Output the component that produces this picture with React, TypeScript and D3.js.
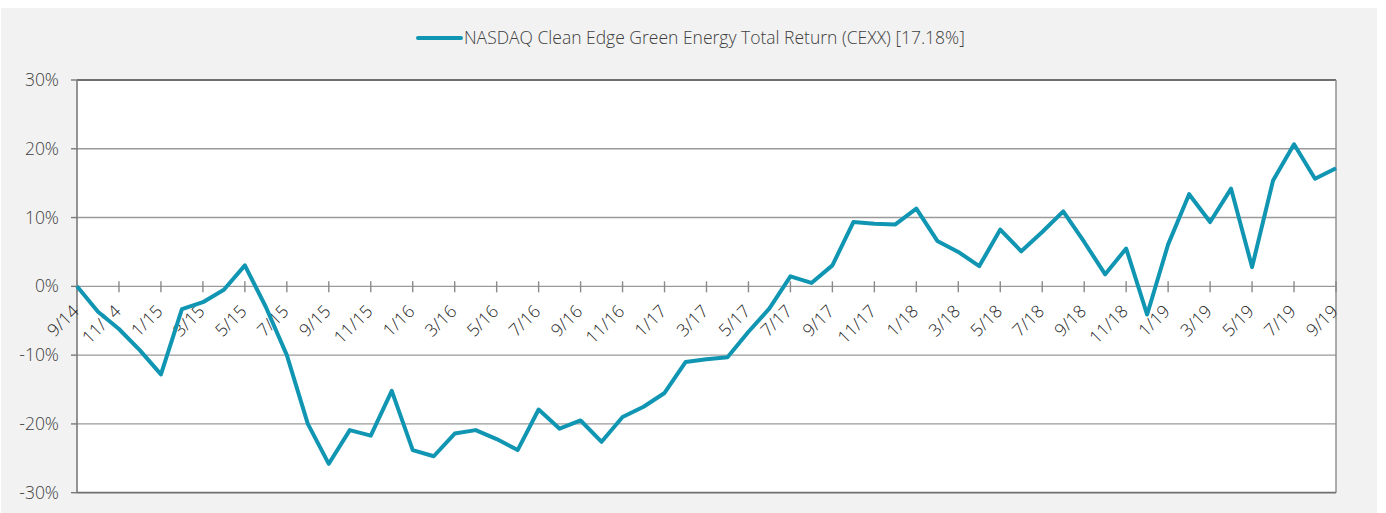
import React from "react";
import * as d3 from "d3";

const seriesName = "NASDAQ Clean Edge Green Energy Total Return (CEXX) [17.18%]";

// Monthly cumulative total return (%), 9/14 .. 9/19
const returns: number[] = [
  0, -3.7, -6.2, -9.3, -12.8, -3.3, -2.3, -0.5, 3.05, -3.0,
  -10.0, -20.0, -25.8, -20.9, -21.7, -15.2, -23.8, -24.7, -21.4, -20.9,
  -22.2, -23.8, -17.9, -20.7, -19.5, -22.6, -19.0, -17.5, -15.5, -11.0,
  -10.6, -10.3, -6.6, -3.2, 1.45, 0.5, 3.05, 9.35, 9.1, 9.0,
  11.3, 6.6, 5.0, 2.95, 8.25, 5.1, 7.9, 10.9, 6.45, 1.75,
  5.5, -4.1, 6.1, 13.4, 9.35, 14.2, 2.8, 15.4, 20.65, 15.65,
  17.18,
];

const xTickLabels: string[] = [
  "9/14", "11/14", "1/15", "3/15", "5/15", "7/15", "9/15", "11/15",
  "1/16", "3/16", "5/16", "7/16", "9/16", "11/16", "1/17", "3/17",
  "5/17", "7/17", "9/17", "11/17", "1/18", "3/18", "5/18", "7/18",
  "9/18", "11/18", "1/19", "3/19", "5/19", "7/19", "9/19",
];

const yTicks: number[] = [-30, -20, -10, 0, 10, 20, 30];

const W = 1386;
const H = 513;
const left = 77;
const right = 1336;
const top = 80;
const bottom = 492.7;

const FONT = "'Open Sans', 'Noto Sans', sans-serif";
const TEXT = "#404040";
const LINE = "#1096b2";

export default function App() {
  const x = d3.scaleLinear().domain([0, returns.length - 1]).range([left, right]);
  const y = d3.scaleLinear().domain([-30, 30]).range([bottom, top]);
  const linePath = d3
    .line<number>()
    .x((_, i) => x(i))
    .y((d) => y(d))(returns) as string;
  const y0 = y(0);

  return (
    <div style={{ position: "absolute", left: 0, top: 0 }}>
      <svg width={W} height={H} style={{ display: "block" }}>
        <rect x={0} y={0} width={W} height={H} fill="#ffffff" />
        <rect x={1} y={8} width={1376} height={H - 8} fill="#f2f2f2" />
        <rect x={left} y={top} width={right - left} height={bottom - top} fill="#ffffff" />

        {/* gridlines */}
        {yTicks.map((t) => (
          <line
            key={"g" + t}
            x1={left}
            x2={right}
            y1={y(t)}
            y2={y(t)}
            stroke={t === 30 || t === -30 ? "#6f6f6f" : "#9a9a9a"}
            strokeWidth={t === 30 || t === -30 ? 1.8 : 1.4}
          />
        ))}
        {/* right border */}
        <line x1={right} x2={right} y1={top} y2={bottom} stroke="#8a8a8a" strokeWidth={1.4} />
        {/* left axis */}
        <line x1={left} x2={left} y1={top} y2={bottom} stroke="#7a7a7a" strokeWidth={1.6} />
        {yTicks.map((t) => (
          <line key={"yt" + t} x1={left - 6} x2={left} y1={y(t)} y2={y(t)} stroke="#7a7a7a" strokeWidth={1.4} />
        ))}
        {yTicks.map((t) => (
          <text
            key={"yl" + t}
            x={59}
            y={y(t)}
            dy="0.35em"
            textAnchor="end"
            fontFamily={FONT}
            fontSize={17.5}
            fontWeight={300}
            fill={TEXT}
          >
            {t + "%"}
          </text>
        ))}

        {/* x axis ticks at zero line */}
        {xTickLabels.map((lab, k) => (
          <line
            key={"xt" + lab}
            x1={x(k * 2)}
            x2={x(k * 2)}
            y1={y0 - 5}
            y2={y0 + 6}
            stroke="#8a8a8a"
            strokeWidth={1.4}
          />
        ))}
        {xTickLabels.map((lab, k) => (
          <text
            key={"xl" + lab}
            transform={`translate(${x(k * 2) + 3},${y0 + 26}) rotate(-45)`}
            textAnchor="end"
            fontFamily={FONT}
            fontSize={17.5}
            fontWeight={300}
            fill="#262626"
          >
            {lab}
          </text>
        ))}

        {/* series line */}
        <path d={linePath} fill="none" stroke={LINE} strokeWidth={4} strokeLinejoin="round" />

        {/* legend */}
        <line x1={418} x2={461} y1={38} y2={38} stroke={LINE} strokeWidth={4} strokeLinecap="round" />
        <text x={464} y={38} dy="0.35em" fontFamily={FONT} fontSize={17.5} fontWeight={300} fill={TEXT}>
          {seriesName}
        </text>
      </svg>
    </div>
  );
}
